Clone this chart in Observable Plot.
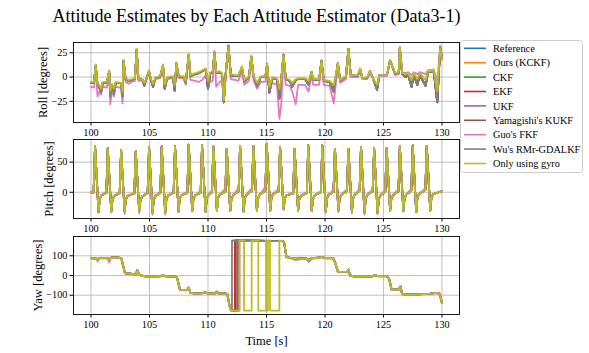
<!DOCTYPE html>
<html><head><meta charset="utf-8">
<script src="https://cdn.jsdelivr.net/npm/d3@7"></script>
<script src="https://cdn.jsdelivr.net/npm/@observablehq/plot@0.6"></script>
<style>
body{margin:0;background:#fff}
#wrap{position:relative;width:589px;height:353px;font-family:"Liberation Serif","Times New Roman",serif;background:#fff;overflow:hidden}
#title{position:absolute;left:0;top:7px;width:513px;text-align:center;font-size:18px;line-height:18px;white-space:nowrap}
.panel{position:absolute;left:0}
</style></head><body>
<div id="wrap"><div id="title">Attitude Estimates by Each Attitude Estimator (Data3-1)</div></div>
<script>
const seriesNames = ["Reference","Ours (KCKF)","CKF","EKF","UKF","Yamagishi's KUKF","Guo's FKF","Wu's RMr-GDALKF","Only using gyro"];
const seriesColors = ["#1f77b4","#ff7f0e","#2ca02c","#d62728","#9467bd","#8c564b","#e377c2","#7f7f7f","#bcbd22"];
const xTicks = [100,105,110,115,120,125,130];
const rollTicks = [-25,0,25];
const pitchTicks = [0,50];
const yawTicks = [-100,0,100];

// ---- Roll ----
const rollTime = [100.0,100.25,100.4,100.55,100.7,100.85,101.0,101.35,101.55,101.65,
101.8,101.95,102.1,102.55,102.7,102.78,102.95,103.2,103.5,103.75,
103.9,104.05,104.4,104.55,104.7,104.95,105.1,105.3,105.5,105.9,
106.15,106.3,106.5,107.0,107.15,107.3,107.5,107.9,108.1,108.35,
108.5,108.9,109.2,109.5,109.8,110.0,110.2,110.4,110.55,110.7,
111.0,111.2,111.35,111.5,111.75,111.95,112.3,112.6,112.9,113.1,
113.5,113.7,113.9,114.2,114.5,114.9,115.05,115.25,115.5,115.9,
116.1,116.25,116.45,116.65,117.0,117.2,117.5,117.7,118.3,118.6,
118.85,119.0,119.5,119.7,119.9,120.4,120.75,121.1,121.3,121.8,
122.0,122.2,122.8,123.0,123.2,123.6,123.85,124.1,124.45,124.65,
125.3,125.56,125.7,126.0,126.3,126.4,126.6,126.9,127.1,127.4,
127.6,127.9,128.1,128.6,128.8,129.3,129.6,129.85,130.0];
const rollRef = [-6,-6,12,-8,-10,-16,-6,-6,6,-20,
-8,-18,-6,-6,-20,17,-2,-4,-3,-2,
28,-2,-3,-9,-3,6,-2,-10,-1,0,
12,-12,-1,0,-14,14,0,0,-6,23,
1,3,4,6,8,-12,4,5,25,4,
5,3,-26,2,32,2,1,1,10,-5,
0,21,0,-10,0,0,13,-16,-1,-2,
-22,-5,23,-2,-4,-10,-3,-2,-2,-8,
5,-3,-3,17,-4,-5,-15,14,-4,1,
29,2,1,8,-1,-1,6,-1,-13,2,
2,17,13,3,4,30,3,0,3,-10,
2,-8,2,-9,5,6,-26,31,20];
const rollGyro = [-5,-5,13,-7,-8,-12,-5,-5,7,-14,
-7,-12,-5,-6,-15,18,-1,-3,-2,-1,
29,-2,-3,-6,-2,7,-1,-7,0,1,
13,-8,0,1,-8,15,1,1,-4,24,
2,4,5,7,9,-4,5,6,25,5,
6,4,-24,3,31,3,2,2,11,-3,
1,22,1,-6,1,1,13,-10,0,-1,
-12,-3,23,-1,-3,-6,-2,-1,-1,-4,
5,-2,-2,17,-3,-4,-8,14,-3,1,
29,2,2,9,-1,0,6,-1,-8,2,
2,17,13,4,5,30,4,3,4,-3,
4,-2,4,-3,6,7,-15,30,18];
const rollGuo = [-10,-11,8,-20,-15,-18,-10,-11,3,-28,
-12,-20,-10,-11,-27,14,-5,-7,-5,-4,
26,-4,-4,-8,-3,5,-3,-9,-2,-1,
11,-10,-2,-1,-10,13,-1,-1,-8,22,
-3,-4,-5,-3,2,-8,-5,-4,27,-10,
-5,-4,-24,-2,33,-2,-3,-4,6,-8,
-4,18,-4,-12,-5,-5,10,-14,-6,-8,
-43,-30,20,-8,-9,-15,-28,-8,-8,-15,
2,-8,-8,15,-8,-9,-27,12,-6,-2,
28,0,0,6,-2,-2,4,-2,-10,1,
1,16,12,2,3,31,5,4,5,2,
5,3,5,3,7,8,-5,32,22];

// ---- Pitch (per gait cycle, read values) ----
const pitchPeakTime = [100.34,101.43,102.57,103.82,104.96,106.04,107.18,108.35,109.49,110.46,111.6,112.74,113.88,115.02,116.16,117.4,118.57,119.77,120.85,122.0,123.08,124.2,125.27,126.4,127.5,128.7];
const pitchPeak = [77,73,70,68,75,76,76,79,78,76,72,77,77,80,75,72,78,78,72,72,75,73,73,76,78,77];
const pitchTrough = [-33,-32,-32,-31,-34,-34,-32,-31,-32,-30,-31,-32,-30,-30,-28,-30,-31,-32,-30,-32,-34,-35,-30,-31,-33,-30];
const pitchGuoTrough = [-34,-33,-36,-35,-37,-37,-33,-32,-33,-31,-31,-33,-31,-31,-29,-31,-31,-34,-33,-35,-37,-36,-31,-32,-34,-31];
const pitchRecover = [-11,-12,-12,-13,-12,-11,-11,-11,-10,-10,-11,-10,-10,-9,-11,-12,-11,-10,-10,-10,-10,-11,-11,-10,-9,-9];
const pitchPre = [0,-1,-1,-2,-1,-1,-1,-1,-1,0,1,2,3,3,2,-2,-1,0,1,2,3,2,1,2,3,4];
const pitchGuoPre = [0,0,0,-1,0,0,1,1,2,4,6,7,8,9,6,0,1,2,4,5,6,5,4,5,6,7];
const pitchMid = [-5,-6,-6,-7,-6,-5,-5,-5,-4,-4,-5,-4,-4,-3,-5,-6,-5,-4,-4,-4,-4,-5,-5,-4,-3,-3];
const pitchStart = 0, pitchEnd = 2;

// ---- Yaw ----
const yawTimeA = [100.0,100.45,100.55,100.7,101.4,101.55,101.7,102.4,102.6,102.9,
103.5,103.85,103.95,104.1,104.5,105.0,105.5,106.0,106.15,106.3,
107.2,107.35,107.6,108.2,108.35,108.5,109.0,109.5,109.75,110.0,
110.6,110.75,110.9,111.5,111.65,111.9,112.0];
const yawRefA = [88,87,80,88,88,80,90,90,85,12,
8,6,28,4,-3,-4,-4,-3,2,-3,
-5,-10,-72,-74,-62,-88,-92,-90,-85,-92,
-90,-82,-90,-92,-95,-170,-178];
const yawGuoA = [86,85,72,86,86,66,88,88,83,10,
6,4,26,2,-5,-6,-6,-5,0,-5,
-7,-12,-74,-76,-64,-90,-94,-92,-87,-94,
-92,-84,-92,-94,-97,-172,-178];
const yawTimeB = [113.0,114.0,115.0,116.3,116.5,116.7,117.0,117.5,118.0,118.4,
118.6,118.9,119.5,119.7,120.0,120.7,120.9,121.1,121.9,122.0,
122.15,122.5,123.0,124.0,124.3,124.5,125.3,125.5,125.7,126.3,
126.45,126.6,127.0,128.0,128.5,129.0,129.5,129.8,130.0];
const yawRefB = [177,177,176,176,170,95,90,88,85,86,
80,88,90,95,88,88,60,20,18,30,
0,-5,-3,-4,2,-3,-3,-20,-72,-72,
-55,-95,-97,-96,-93,-92,-88,-92,-138];
const yawGuoB = [175,176,175,175,168,93,88,78,83,84,
68,86,88,93,86,86,58,18,16,28,
-2,-7,-5,-6,0,-5,-5,-22,-74,-74,
-57,-97,-99,-98,-95,-94,-90,-94,-140];
// time each estimator's yaw wraps from -180 to +180 (Reference .. Wu)
const yawWrapTime = [112.45,112.4,112.35,112.3,112.5,112.6,112.7,112.05];
// gyro-only yaw flips between -180 and +180 at these times
const yawGyroToggle = [112.68,113.08,113.73,114.3,114.96,115.05,115.12,115.3,116.1];

// ---- build series ----
const rows = (ts, vs) => ts.map((t, i) => ({t, v: vs[i]}));
const rollRefRows = rows(rollTime, rollRef);
const rollSeries = [rollRefRows, rollRefRows, rollRefRows, rollRefRows, rollRefRows, rollRefRows,
  rows(rollTime, rollGuo), rollRefRows, rows(rollTime, rollGyro)];

function pitchRows(pre, trough) {
  const out = [{t: 100.0, v: pitchStart}];
  pitchPeakTime.forEach((p, k) => {
    out.push({t: p - 0.12, v: pre[k]}, {t: p, v: pitchPeak[k]}, {t: p + 0.3, v: trough[k]},
             {t: p + 0.4, v: pitchRecover[k]}, {t: p + 0.55, v: pitchMid[k]});
  });
  out.push({t: 130.0, v: pitchEnd});
  return out;
}
const pitchRef = pitchRows(pitchPre, pitchTrough);
const pitchSeries = [pitchRef, pitchRef, pitchRef, pitchRef, pitchRef, pitchRef,
  pitchRows(pitchGuoPre, pitchGuoTrough), pitchRef, pitchRef];

function yawRows(a, b, w) {
  const out = rows(yawTimeA, a);
  out.push({t: w, v: -178}, {t: w, v: 178});
  return out.concat(rows(yawTimeB, b));
}
const yawSeries = yawWrapTime.map((w, i) => i === 6 ? yawRows(yawGuoA, yawGuoB, w) : yawRows(yawRefA, yawRefB, w));
{
  const g = rows(yawTimeA, yawRefA);
  let level = -178;
  yawGyroToggle.forEach(t => { g.push({t, v: level}); level = -level; g.push({t, v: level}); });
  yawTimeB.forEach((t, i) => { if (t > 116.1) g.push({t, v: yawRefB[i]}); });
  yawSeries.push(g);
}

const minus = d => d < 0 ? "\u2212" + (-d) : String(d);
const wrap = document.getElementById("wrap");

function panel({top, height, marginBottom, yDomain, yTicks, series, label, labelDx, xlabel}) {
  const marks = [
    Plot.gridX(xTicks, {stroke: "#b0b0b0", strokeOpacity: 1, strokeWidth: 0.8}),
    Plot.gridY(yTicks, {stroke: "#b0b0b0", strokeOpacity: 1, strokeWidth: 0.8}),
    ...series.map((d, i) => Plot.line(d, {x: "t", y: "v", stroke: seriesColors[i], strokeWidth: 1.8})),
    Plot.frame({stroke: "black", strokeWidth: 0.9}),
    Plot.axisX(xTicks, {tickSize: 3.5, tickPadding: 2.5, tickFormat: minus, label: null, fontSize: 10.3}),
    Plot.axisY(yTicks, {tickSize: 3.5, tickPadding: 2.5, tickFormat: minus, label: null, fontSize: 10.3}),
    Plot.text([label], {text: d => d, frameAnchor: "left", rotate: -90, dx: labelDx, fontSize: 12.5, textAnchor: "middle", lineAnchor: "middle"})
  ];
  if (xlabel) marks.push(Plot.text([xlabel], {text: d => d, frameAnchor: "bottom", dy: 26, fontSize: 12.5, textAnchor: "middle", lineAnchor: "middle"}));
  const svg = Plot.plot({
    width: 589, height, marginLeft: 73, marginRight: 130, marginTop: 12, marginBottom,
    x: {domain: [98.5, 131.5]},
    y: {domain: yDomain},
    style: {fontFamily: "'Liberation Serif', 'Times New Roman', serif", fontSize: "10.3px", background: "transparent", color: "black", overflow: "visible"},
    marks
  });
  const div = document.createElement("div");
  div.className = "panel";
  div.style.top = top + "px";
  div.appendChild(svg);
  wrap.appendChild(div);
}

panel({top: 30, height: 112, marginBottom: 20, yDomain: [-46.8, 35.6], yTicks: rollTicks, series: rollSeries, label: "Roll [degrees]", labelDx: -31});
panel({top: 127, height: 111, marginBottom: 20, yDomain: [-43.5, 87.5], yTicks: pitchTicks, series: pitchSeries, label: "Pitch [degrees]", labelDx: -25});
panel({top: 224, height: 129, marginBottom: 39, yDomain: [-198, 198], yTicks: yawTicks, series: yawSeries, label: "Yaw [degrees]", labelDx: -36, xlabel: "Time [s]"});

// legend
const leg = d3.select(wrap).append("svg")
  .attr("width", 589).attr("height", 353)
  .style("position", "absolute").style("left", "0px").style("top", "0px")
  .style("font-family", "'Liberation Serif', 'Times New Roman', serif");
leg.append("rect").attr("x", 460.5).attr("y", 40.5).attr("width", 122).attr("height", 132)
  .attr("rx", 3).attr("fill", "white").attr("fill-opacity", 0.8).attr("stroke", "#cccccc");
const items = leg.selectAll("g.item").data(seriesNames).join("g")
  .attr("transform", (d, i) => `translate(0,${48.3 + i * 14.4})`);
items.append("line").attr("x1", 464).attr("x2", 486).attr("stroke", (d, i) => seriesColors[i]).attr("stroke-width", 1.6);
items.append("text").attr("x", 493).attr("dy", "0.35em").attr("font-size", 10.3).text(d => d);
</script>
</body></html>
